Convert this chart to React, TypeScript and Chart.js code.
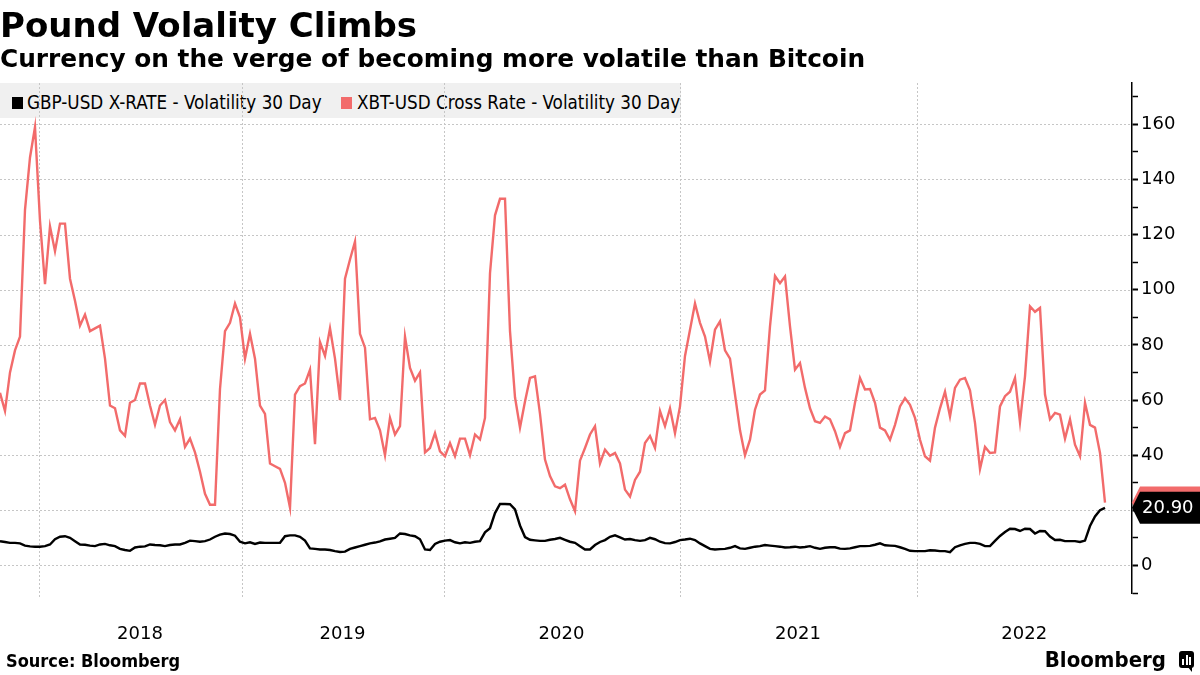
import React, { useEffect, useRef } from 'react';
import { Chart, registerables } from 'chart.js';

Chart.register(...registerables);

// ---- data (one sample every equal step along the x axis) ----
const years = ['2018', '2019', '2020', '2021', '2022'];
// sample position at which each calendar year starts
const yearStartIndex = [7.7, 48.3, 88.7, 135.9, 183.3];
// right edge of the time axis, in sample units
const axisEndIndex = 226.4;

const seriesNames = ['GBP-USD X-RATE - Volatility 30 Day', 'XBT-USD Cross Rate - Volatility 30 Day'];

const gbpVol = [
  8.8, 8.5, 8.2, 8.2, 8.0, 7.2, 6.9, 6.8, 6.8, 7.0,
  7.6, 9.5, 10.4, 10.6, 10.0, 8.8, 7.6, 7.5, 7.2, 7.0,
  7.6, 7.8, 7.3, 7.0, 6.0, 5.6, 5.3, 6.5, 6.8, 6.9,
  7.6, 7.4, 7.3, 7.0, 7.4, 7.6, 7.6, 8.2, 9.0, 8.8,
  8.6, 8.8, 9.4, 10.4, 11.2, 11.6, 11.4, 10.8, 8.6, 8.0,
  8.4, 7.8, 8.3, 8.2, 8.2, 8.2, 8.2, 10.6, 10.9, 10.9,
  10.4, 9.0, 6.2, 6.0, 5.8, 5.8, 5.6, 5.2, 4.9, 5.0,
  6.0, 6.5, 7.0, 7.5, 8.0, 8.3, 8.7, 9.4, 9.7, 10.0,
  11.6, 11.4, 10.9, 10.6, 9.5, 5.8, 5.6, 7.8, 8.6, 9.0,
  9.2, 8.4, 8.0, 8.4, 8.2, 8.6, 8.8, 12.0, 13.5, 19.0,
  22.3, 22.3, 22.2, 20.3, 14.5, 10.3, 9.3, 9.1, 8.9, 8.9,
  9.3, 9.6, 10.0, 9.3, 8.6, 8.2, 7.0, 5.8, 5.8, 7.4,
  8.5, 9.2, 10.4, 10.9, 10.2, 9.4, 9.6, 9.2, 8.9, 9.2,
  10.0, 9.5, 8.6, 8.1, 8.0, 8.5, 9.2, 9.4, 9.7, 9.2,
  8.0, 7.0, 6.0, 5.8, 5.9, 6.0, 6.4, 7.0, 6.2, 6.0,
  6.4, 6.8, 7.0, 7.4, 7.2, 7.0, 6.8, 6.5, 6.6, 6.8,
  6.5, 6.7, 7.0, 6.4, 6.0, 6.4, 6.6, 6.6, 6.1, 6.0,
  6.2, 6.6, 7.0, 7.0, 7.1, 7.5, 8.0, 7.3, 7.2, 7.1,
  6.6, 6.0, 5.3, 5.2, 5.2, 5.2, 5.5, 5.4, 5.2, 5.2,
  4.8, 6.6, 7.3, 7.8, 8.2, 8.2, 7.8, 7.0, 7.0, 8.9,
  10.7, 12.1, 13.3, 13.2, 12.5, 13.3, 13.2, 11.6, 12.5, 12.4,
  10.5, 9.2, 9.3, 8.8, 8.8, 8.8, 8.5, 9.0, 14.3, 17.8,
  20.0, 20.9,
];

const xbtVol = [
  62.6, 56, 70, 78, 83, 129, 148, 159, 125, 102,
  123, 114, 124, 124, 104, 96, 87, 91, 85, 86,
  87, 75, 58, 57, 49, 47, 59, 60, 66, 66,
  58, 51, 58, 60, 52, 49, 53, 43, 46, 41,
  34, 26, 22, 22, 64, 85, 88, 95, 90, 75,
  84, 75, 58, 55, 37, 36, 35, 30, 21, 62,
  65, 66, 71, 44, 81, 76, 86, 75, 60, 104,
  111, 117.5, 84, 79, 53, 53.5, 49, 40, 53.5, 47.5,
  50.5, 83, 71.6, 67, 70, 41, 42.6, 48, 41.4, 39.6,
  44.4, 39.6, 46, 46, 40, 47.5, 45.7, 53.5, 106, 127,
  133, 133, 85, 61, 50, 59.5, 68, 68.6, 55, 38.4,
  32.4, 28.7, 28, 29.3, 24, 19.7, 38, 42.6, 47.5, 50.5,
  37, 42, 39.8, 40.8, 37, 27.5, 25, 31, 34, 44.4,
  47, 42.6, 56, 50.5, 57, 48, 57.7, 76, 85.5, 95,
  88, 83, 74, 85.5, 88.5, 78, 75, 62, 49, 40,
  45.6, 56.5, 62, 63.5, 86.7, 105, 102.4, 104.8, 86.7, 71,
  73.4, 64.4, 57, 52.3, 51.7, 54, 53, 48.7, 43, 48,
  49, 59, 68, 63.8, 64, 59, 50, 49, 45.6, 51,
  57.7, 60.7, 58.3, 53.5, 45.6, 39.6, 38, 50, 57, 63,
  54, 64.4, 67.4, 68, 63.5, 51.7, 35, 43, 40.8, 41,
  57.7, 61.4, 63, 68, 52, 68.6, 94, 92, 93.4, 62,
  53, 55.3, 54.7, 46, 53, 43.8, 39.6, 59, 51, 50,
  40.8, 22.8,
];

const yMin = -10;
const yMax = 175;
const yMinorStep = 10;
const yLabelStep = 20;

const RED = '#f26b6b';
const GRID = '#c6c6c6';

const yearMid = years.map((_, k) => (yearStartIndex[k] + (k + 1 < yearStartIndex.length ? yearStartIndex[k + 1] : axisEndIndex)) / 2);

const gridPlugin = {
  id: 'bbgGrid',
  beforeDatasetsDraw(chart: any) {
    const { ctx, chartArea: a, scales } = chart;
    const x = scales.x;
    const y = scales.y;
    ctx.save();
    ctx.strokeStyle = GRID;
    ctx.lineWidth = 1;
    ctx.setLineDash([2, 2]);
    y.ticks.forEach((t: any) => {
      if (t.value % yLabelStep !== 0) return;
      const py = Math.round(y.getPixelForValue(t.value)) + 0.5;
      ctx.beginPath();
      ctx.moveTo(a.left, py);
      ctx.lineTo(a.right, py);
      ctx.stroke();
    });
    yearStartIndex.forEach((v) => {
      const px = Math.round(x.getPixelForValue(v)) + 0.5;
      ctx.beginPath();
      ctx.moveTo(px, a.top);
      ctx.lineTo(px, a.bottom + 5);
      ctx.stroke();
    });
    ctx.restore();
  },
};

const endLabelPlugin = {
  id: 'bbgEndLabels',
  afterDraw(chart: any) {
    const { ctx, chartArea: a, scales } = chart;
    const y = scales.y;
    const tag = (value: number, fill: string, text: string | null) => {
      const py = y.getPixelForValue(value);
      const h = 16;
      ctx.save();
      ctx.beginPath();
      ctx.moveTo(a.right, py);
      ctx.lineTo(a.right + 8, py - h);
      ctx.lineTo(chart.width, py - h);
      ctx.lineTo(chart.width, py + h);
      ctx.lineTo(a.right + 8, py + h);
      ctx.closePath();
      ctx.fillStyle = fill;
      ctx.fill();
      if (text) {
        ctx.fillStyle = '#ffffff';
        ctx.font = '18px "DejaVu Sans"';
        ctx.textAlign = 'left';
        ctx.textBaseline = 'middle';
        ctx.fillText(text, a.right + 10, py + 1);
      }
      ctx.restore();
    };
    const lastRed = xbtVol[xbtVol.length - 1];
    const lastBlack = gbpVol[gbpVol.length - 1];
    tag(lastRed, RED, null);
    tag(lastBlack, '#000000', lastBlack.toFixed(2));
  },
};

export default function App() {
  const ref = useRef<HTMLCanvasElement | null>(null);

  useEffect(() => {
    if (!ref.current) return;
    const chart = new Chart(ref.current, {
      type: 'line',
      data: {
        datasets: [
          {
            label: seriesNames[0],
            data: gbpVol.map((v, i) => ({ x: i, y: v })),
            borderColor: '#000000',
            borderWidth: 2.4,
            pointRadius: 0,
            tension: 0,
          },
          {
            label: seriesNames[1],
            data: xbtVol.map((v, i) => ({ x: i, y: v })),
            borderColor: RED,
            borderWidth: 2.4,
            pointRadius: 0,
            tension: 0,
          },
        ],
      },
      options: {
        animation: false,
        responsive: false,
        layout: { padding: { top: 83, left: 0, right: 0, bottom: 0 } },
        plugins: { legend: { display: false }, tooltip: { enabled: false } },
        scales: {
          x: {
            type: 'linear',
            min: 0,
            max: axisEndIndex,
            grid: { display: false, drawTicks: false },
            border: { display: false },
            afterBuildTicks: (s: any) => {
              s.ticks = yearMid.map((v) => ({ value: v }));
            },
            afterFit: (s: any) => {
              s.height = 82;
            },
            ticks: {
              autoSkip: false,
              maxRotation: 0,
              padding: 31,
              color: '#000',
              font: { size: 18, family: 'DejaVu Sans' },
              callback: (v: any) => {
                const k = yearMid.findIndex((m) => Math.abs(m - Number(v)) < 1e-6);
                return k >= 0 ? years[k] : '';
              },
            },
          },
          y: {
            position: 'right',
            min: yMin,
            max: yMax,
            afterFit: (s: any) => {
              s.width = 68;
            },
            grid: {
              drawOnChartArea: false,
              drawTicks: true,
              tickLength: 6,
              tickColor: '#000',
              tickWidth: (c: any) => (c.tick && c.tick.value % yLabelStep === 0 ? 2 : 1.5),
            },
            border: { display: true, color: '#000', width: 1.5 },
            ticks: {
              stepSize: yMinorStep,
              includeBounds: false,
              autoSkip: false,
              maxTicksLimit: 100,
              padding: 3,
              color: '#000',
              font: { size: 18, family: 'DejaVu Sans' },
              callback: (v: any) => (Number(v) % yLabelStep === 0 ? String(v) : ''),
            },
          },
        },
      } as any,
      plugins: [gridPlugin, endLabelPlugin],
    });
    return () => chart.destroy();
  }, []);

  const legendText: React.CSSProperties = {
    position: 'absolute',
    top: 94,
    fontFamily: '"DejaVu Sans Condensed", "DejaVu Sans"',
    fontStretch: 'condensed',
    fontSize: 18.7,
    lineHeight: 1,
    color: '#000',
    whiteSpace: 'nowrap',
  };

  return (
    <div style={{ position: 'fixed', left: 0, top: 0, width: 1200, height: 675, background: '#fff', overflow: 'hidden' }}>
      <div style={{ position: 'absolute', left: 0, top: 83, width: 681, height: 35, background: '#f0f0f0' }} />
      <div style={{ position: 'absolute', left: 12, top: 97, width: 11, height: 12, background: '#000' }} />
      <div style={{ ...legendText, left: 27 }}>{seriesNames[0]}</div>
      <div style={{ position: 'absolute', left: 341, top: 97, width: 11, height: 12, background: RED }} />
      <div style={{ ...legendText, left: 357 }}>{seriesNames[1]}</div>
      <canvas ref={ref} width={1200} height={675} style={{ position: 'absolute', left: 0, top: 0, display: 'block' }} />
      <div
        style={{
          position: 'absolute', left: 0, top: 8, fontFamily: '"DejaVu Sans"', fontWeight: 'bold',
          fontSize: 34, lineHeight: 1, whiteSpace: 'nowrap', color: '#000',
        }}
      >
        Pound Volality Climbs
      </div>
      <div
        style={{
          position: 'absolute', left: 0, top: 47, fontFamily: '"DejaVu Sans"', fontWeight: 'bold',
          fontSize: 24.8, lineHeight: 1, whiteSpace: 'nowrap', color: '#000',
        }}
      >
        Currency on the verge of becoming more volatile than Bitcoin
      </div>
      <div
        style={{
          position: 'absolute', left: 6, top: 652, fontFamily: '"DejaVu Sans Condensed", "DejaVu Sans"',
          fontStretch: 'condensed', fontWeight: 'bold', fontSize: 18, lineHeight: 1, whiteSpace: 'nowrap', color: '#000',
        }}
      >
        Source: Bloomberg
      </div>
      <div
        style={{
          position: 'absolute', right: 34, top: 649, fontFamily: '"DejaVu Sans Condensed", "DejaVu Sans"',
          fontStretch: 'condensed', fontWeight: 'bold', fontSize: 22, lineHeight: 1, whiteSpace: 'nowrap', color: '#000',
        }}
      >
        Bloomberg
      </div>
      <div style={{ position: 'absolute', left: 1179, top: 651, width: 15, height: 17, background: '#000', borderRadius: 3 }}>
        <div style={{ position: 'absolute', left: 3, top: 8, width: 2, height: 6, background: '#fff' }} />
        <div style={{ position: 'absolute', left: 6.5, top: 4, width: 2, height: 10, background: '#fff' }} />
        <div style={{ position: 'absolute', left: 10, top: 6, width: 2, height: 8, background: '#fff' }} />
      </div>
      <div style={{ position: 'absolute', left: 1187, top: 666, width: 0, height: 0, borderLeft: '5px solid transparent', borderTop: '6px solid #000' }} />
    </div>
  );
}
